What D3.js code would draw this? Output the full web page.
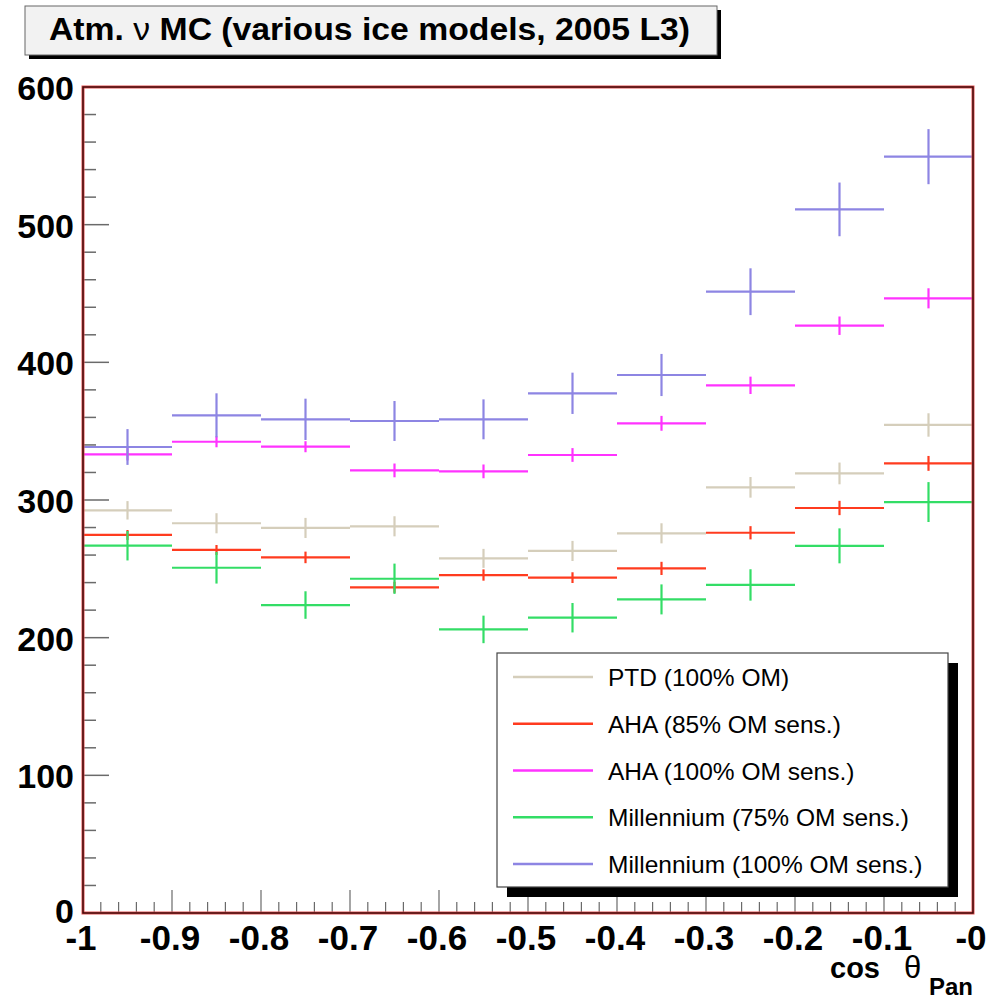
<!DOCTYPE html>
<html><head><meta charset="utf-8">
<script src="https://cdn.jsdelivr.net/npm/d3@7"></script>
<style>html,body{margin:0;padding:0;background:#fff;}svg{display:block;}</style>
</head><body>
<script>
// ---- data ----
const binCenters = [-0.95, -0.85, -0.75, -0.65, -0.55, -0.45, -0.35, -0.25, -0.15, -0.05];
const binWidth = 0.1;
const xTickValues = [-1, -0.9, -0.8, -0.7, -0.6, -0.5, -0.4, -0.3, -0.2, -0.1, 0];
const xTickLabels = ["-1", "-0.9", "-0.8", "-0.7", "-0.6", "-0.5", "-0.4", "-0.3", "-0.2", "-0.1", "-0"];
const yTickValues = [0, 100, 200, 300, 400, 500, 600];
const yTickLabels = ["0", "100", "200", "300", "400", "500", "600"];

const seriesNames = ["PTD (100% OM)", "AHA (85% OM sens.)", "AHA (100% OM sens.)", "Millennium (75% OM sens.)", "Millennium (100% OM sens.)"];
const seriesColors = ["#d5cebb", "#ff3b1f", "#ff33ff", "#33dd66", "#8d85e3"];

const ptd      = [292.5, 283.1, 279.7, 280.9, 257.6, 263.0, 275.8, 309.2, 319.3, 354.5];
const ptdErr   = [6.7, 7.3, 7.3, 7.3, 6.9, 7.3, 7.3, 7.5, 7.9, 8.5];
const aha85    = [274.6, 263.7, 258.3, 236.6, 245.5, 243.6, 250.3, 276.2, 294.2, 326.6];
const aha85Err = [3.6, 3.6, 4.2, 4.0, 4.1, 3.9, 4.8, 4.8, 5.2, 5.4];
const aha100   = [333.2, 342.3, 338.7, 321.5, 320.8, 332.7, 355.7, 383.3, 426.6, 446.5];
const aha100Err= [4.5, 4.0, 4.0, 5.0, 5.0, 5.0, 5.4, 6.3, 6.7, 7.3];
const mil75    = [266.8, 250.8, 223.7, 242.8, 206.0, 214.5, 227.8, 238.3, 266.7, 298.5];
const mil75Err = [10.7, 11.5, 10.0, 11.0, 10.0, 10.7, 10.9, 11.4, 12.7, 14.5];
const mil100   = [338.5, 361.5, 358.6, 357.4, 358.6, 377.5, 390.8, 451.3, 511.1, 549.4];
const mil100Err= [13.0, 16.0, 15.0, 14.5, 14.5, 15.0, 15.3, 17.0, 19.5, 20.0];

const seriesValues = [ptd, aha85, aha100, mil75, mil100];
const seriesErrors = [ptdErr, aha85Err, aha100Err, mil75Err, mil100Err];

// ---- layout ----
const W = 1004, H = 1000;
const L = 83, R = 973, T = 87, B = 913;
const FONT = "Liberation Sans, Arial, Helvetica, sans-serif";

const svg = d3.select("body").append("svg").attr("width", W).attr("height", H);
const x = d3.scaleLinear().domain([-1, 0]).range([L, R]);
const y = d3.scaleLinear().domain([0, 600]).range([B, T]);

// title box
const tb = {x: 25, y: 6, w: 692, h: 49};
svg.append("rect").attr("x", tb.x + 4).attr("y", tb.y + 4).attr("width", tb.w).attr("height", tb.h).attr("fill", "#000");
svg.append("rect").attr("x", tb.x).attr("y", tb.y).attr("width", tb.w).attr("height", tb.h)
  .attr("fill", "#f2f2f2").attr("stroke", "#666").attr("stroke-width", 1);
const title = svg.append("text").attr("x", 49).attr("y", 40)
  .attr("textLength", 641).attr("lengthAdjust", "spacingAndGlyphs")
  .attr("font-family", FONT).attr("font-size", 32).attr("font-weight", "bold").attr("fill", "#000");
title.append("tspan").text("Atm. ");
title.append("tspan").attr("font-weight", "normal").text("ν");
title.append("tspan").text(" MC (various ice models, 2005 L3)");

// axes ticks (inside)
const g = svg.append("g");
const yMinor = d3.range(0, 601, 20).filter(v => v % 100 !== 0);
g.selectAll(".ymin").data(yMinor).enter().append("line")
  .attr("x1", L).attr("x2", L + 13).attr("y1", d => y(d)).attr("y2", d => y(d))
  .attr("stroke", "#6a6a6a").attr("stroke-width", 1.5);
g.selectAll(".ymaj").data(yTickValues).enter().append("line")
  .attr("x1", L).attr("x2", L + 26).attr("y1", d => y(d)).attr("y2", d => y(d))
  .attr("stroke", "#6a6a6a").attr("stroke-width", 1.5);
const xMinor = d3.range(0, 51).map(i => -1 + i * 0.02).filter((v, i) => i % 5 !== 0);
g.selectAll(".xmin").data(xMinor).enter().append("line")
  .attr("x1", d => x(d)).attr("x2", d => x(d)).attr("y1", B).attr("y2", B - 11)
  .attr("stroke", "#6a6a6a").attr("stroke-width", 1.2);
g.selectAll(".xmaj").data(xTickValues).enter().append("line")
  .attr("x1", d => x(d)).attr("x2", d => x(d)).attr("y1", B).attr("y2", B - 23)
  .attr("stroke", "#6a6a6a").attr("stroke-width", 1.2);

// tick labels
svg.selectAll(".ylab").data(yTickValues).enter().append("text")
  .attr("x", 74).attr("y", d => y(d) + (d === 0 ? 10 : 13)).attr("text-anchor", "end")
  .attr("font-family", FONT).attr("font-size", 34).attr("font-weight", "bold")
  .text((d, i) => yTickLabels[i]);
svg.selectAll(".xlab").data(xTickValues).enter().append("text")
  .attr("x", d => x(d) - 2).attr("y", 950).attr("text-anchor", "middle")
  .attr("font-family", FONT).attr("font-size", 35).attr("font-weight", "bold")
  .text((d, i) => xTickLabels[i]);

// x axis title
svg.append("text").attr("x", 830).attr("y", 978)
  .attr("font-family", FONT).attr("font-size", 29).attr("font-weight", "bold").text("cos");
svg.append("text").attr("x", 904).attr("y", 978)
  .attr("font-family", FONT).attr("font-size", 31).text("θ");
svg.append("text").attr("x", 973).attr("y", 995).attr("text-anchor", "end")
  .attr("font-family", FONT).attr("font-size", 24).attr("font-weight", "bold").text("Pan");

// data (histogram with error bars)
seriesValues.forEach((vals, si) => {
  const col = seriesColors[si];
  const errs = seriesErrors[si];
  const sg = svg.append("g");
  sg.selectAll(".h").data(binCenters).enter().append("line")
    .attr("x1", d => x(d - binWidth / 2)).attr("x2", d => x(d + binWidth / 2))
    .attr("y1", (d, i) => y(vals[i])).attr("y2", (d, i) => y(vals[i]))
    .attr("stroke", col).attr("stroke-width", 2.2);
  sg.selectAll(".v").data(binCenters).enter().append("line")
    .attr("x1", d => x(d)).attr("x2", d => x(d))
    .attr("y1", (d, i) => y(vals[i] - errs[i])).attr("y2", (d, i) => y(vals[i] + errs[i]))
    .attr("stroke", col).attr("stroke-width", 2.2);
});

// frame
svg.append("rect").attr("x", L).attr("y", T).attr("width", R - L).attr("height", B - T)
  .attr("fill", "none").attr("stroke", "#e05050").attr("stroke-width", 3);
svg.append("rect").attr("x", L).attr("y", T).attr("width", R - L).attr("height", B - T)
  .attr("fill", "none").attr("stroke", "#3a0808").attr("stroke-width", 1.4);

// legend
const lg = {x: 497, y: 653, w: 451, h: 234};
svg.append("rect").attr("x", lg.x + 10).attr("y", lg.y + 10).attr("width", lg.w).attr("height", lg.h).attr("fill", "#000");
svg.append("rect").attr("x", lg.x).attr("y", lg.y).attr("width", lg.w).attr("height", lg.h)
  .attr("fill", "#fff").attr("stroke", "#444").attr("stroke-width", 1.2);
const rowY = d3.scaleLinear().domain([0, 4]).range([lg.y + 24, lg.y + 211]);
seriesNames.forEach((name, i) => {
  svg.append("line").attr("x1", 513).attr("x2", 593).attr("y1", rowY(i)).attr("y2", rowY(i))
    .attr("stroke", seriesColors[i]).attr("stroke-width", 2.5);
  svg.append("text").attr("x", 608).attr("y", rowY(i) + 9)
    .attr("font-family", FONT).attr("font-size", 24.5).attr("fill", "#000")
    .text(name);
});
</script>
</body></html>
